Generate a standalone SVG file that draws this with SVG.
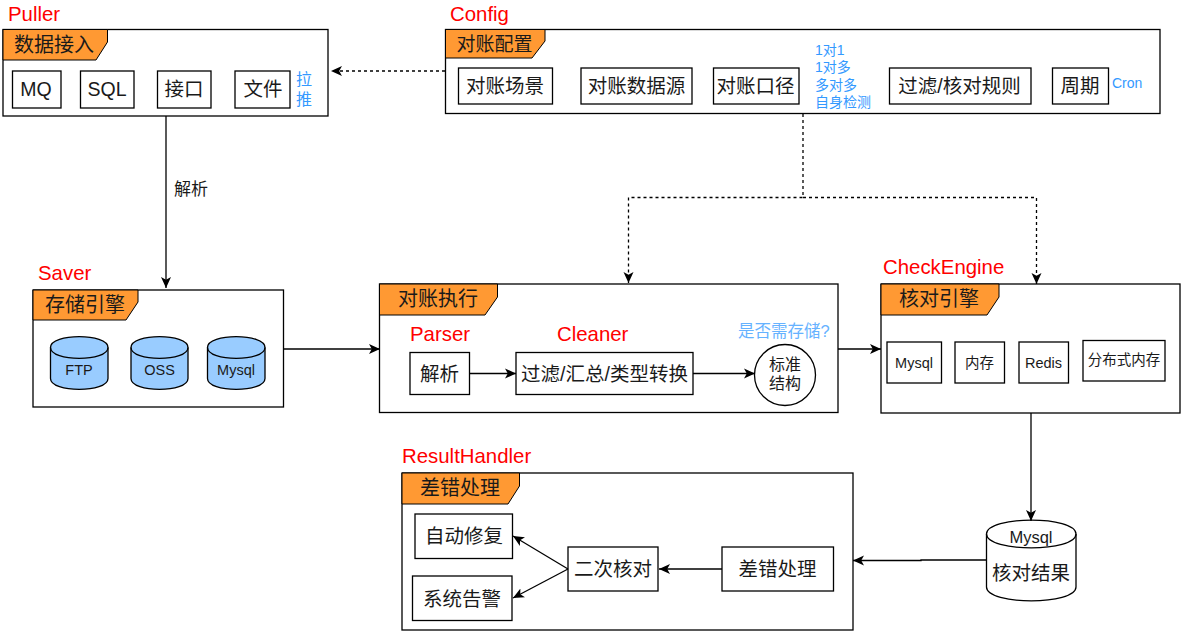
<svg xmlns="http://www.w3.org/2000/svg" width="1184" height="634" viewBox="0 0 1184 634">
<style>
text{font-family:"Liberation Sans","Noto Sans CJK SC",sans-serif;text-anchor:middle;fill:#1a1a1a}
.b{fill:#fff;stroke:#000;stroke-width:1.3}
.tab{fill:#ff9933;stroke:#000;stroke-width:1}
.red{fill:#ff0000;font-size:20.400px;text-anchor:start}
.t{font-size:20px}
.m{font-size:19.500px}
.s{font-size:14.500px}
.blue{fill:#3399ff;font-size:14px;text-anchor:start}
.db{fill:#99ccff;stroke:#000;stroke-width:1.3}
.l{fill:none;stroke:#000;stroke-width:1.3}
.d{fill:none;stroke:#000;stroke-width:1.3;stroke-dasharray:3 3}
</style>
<defs>
<marker id="a" markerWidth="12" markerHeight="12" refX="11" refY="6" orient="auto" markerUnits="userSpaceOnUse"><path d="M0,1L11,6L0,11L2.800,6Z" fill="#000"/></marker>
</defs>
<rect width="1184" height="634" fill="#fff"/>
<text x="191" y="195" font-size="17" id="label-parse">解析</text>
<g id="puller">
<text class="red" x="8" y="21">Puller</text>
<rect class="b" x="3" y="29.500" width="325" height="86.500"/>
<path class="tab" d="M3,29.500H107.500V42L96,60H3Z"/>
<text class="t" x="54" y="52">数据接入</text>
<rect class="b" x="12.500" y="71" width="48.500" height="37"/><text class="m" x="36" y="96">MQ</text>
<rect class="b" x="80.500" y="71" width="53.500" height="37"/><text class="m" x="107" y="96">SQL</text>
<rect class="b" x="157.500" y="71" width="53.500" height="37"/><text class="m" x="184" y="96">接口</text>
<rect class="b" x="235" y="71" width="55" height="37"/><text class="m" x="263" y="96">文件</text>
<text class="blue" x="296" y="85" style="font-size:16px">拉</text>
<text class="blue" x="296" y="105" style="font-size:16px">推</text>
</g>
<g id="config">
<text class="red" x="450" y="21">Config</text>
<rect class="b" x="445.500" y="29.500" width="714.500" height="84"/>
<path class="tab" d="M445.500,29.500H545V41L532,58H445.500Z"/>
<text x="494.500" y="51" style="font-size:19px">对账配置</text>
<rect class="b" x="458.500" y="68" width="94" height="36"/><text class="m" x="505" y="93">对账场景</text>
<rect class="b" x="581" y="68" width="111" height="36"/><text class="m" x="636.500" y="93">对账数据源</text>
<rect class="b" x="713.500" y="68" width="85.500" height="36"/><text class="m" x="755.500" y="93">对账口径</text>
<rect class="b" x="889.500" y="68" width="141.500" height="36"/><text class="m" x="959.500" y="93">过滤/核对规则</text>
<rect class="b" x="1052.500" y="68" width="56" height="36"/><text class="m" x="1080" y="93">周期</text>
<text class="blue" x="815" y="55">1对1</text>
<text class="blue" x="815" y="72">1对多</text>
<text class="blue" x="815" y="90">多对多</text>
<text class="blue" x="815" y="107">自身检测</text>
<text class="blue" x="1112" y="88">Cron</text>
</g>
<g id="saver">
<text class="red" x="38" y="280">Saver</text>
<rect class="b" x="33" y="290" width="250.500" height="117"/>
<path class="tab" d="M33,290H138V302L126,320H33Z"/>
<text class="t" x="85" y="312">存储引擎</text>
<g id="db-ftp"><path class="db" d="M50.500,347.500C50.500,333 108,333 108,347.500V378.500C108,393 50.500,393 50.500,378.500Z"/><path class="l" d="M50.500,347.500C50.500,362 108,362 108,347.500"/><text class="s" x="79" y="375">FTP</text></g>
<g id="db-oss"><path class="db" d="M131,347.500C131,333 188,333 188,347.500V378.500C188,393 131,393 131,378.500Z"/><path class="l" d="M131,347.500C131,362 188,362 188,347.500"/><text class="s" x="159.500" y="375">OSS</text></g>
<g id="db-mysql"><path class="db" d="M207.500,347.500C207.500,333 265,333 265,347.500V378.500C265,393 207.500,393 207.500,378.500Z"/><path class="l" d="M207.500,347.500C207.500,362 265,362 265,347.500"/><text class="s" x="236" y="375">Mysql</text></g>
</g>
<g id="exec">
<rect class="b" x="379.500" y="284" width="458.500" height="128.500"/>
<path class="tab" d="M379.500,284H497.500V297L485,315H379.500Z"/>
<text class="t" x="438" y="306">对账执行</text>
<text class="red" x="410" y="341">Parser</text>
<text class="red" x="557" y="341">Cleaner</text>
<text class="blue" x="738" y="337" style="fill:#66b2ff;font-size:16.500px">是否需存储?</text>
<rect class="b" x="410" y="352.500" width="59.500" height="42"/><text class="m" x="439.500" y="381">解析</text>
<rect class="b" x="516" y="352.500" width="177" height="42"/><text class="m" x="604.500" y="381">过滤/汇总/类型转换</text>
<circle class="b" cx="785" cy="375" r="30.500"/>
<text x="785" y="370" style="font-size:16px">标准</text>
<text x="785" y="389" style="font-size:16px">结构</text>
</g>
<g id="checkengine">
<text class="red" x="883" y="274">CheckEngine</text>
<rect class="b" x="881" y="284" width="299" height="129"/>
<path class="tab" d="M881,284H999V297L987,315H881Z"/>
<text class="t" x="939" y="306">核对引擎</text>
<rect class="b" x="887" y="342" width="54.500" height="41"/><text class="s" x="914" y="368">Mysql</text>
<rect class="b" x="955" y="342" width="49.500" height="41"/><text class="s" x="979.500" y="368">内存</text>
<rect class="b" x="1019" y="342" width="49.500" height="41"/><text class="s" x="1043.500" y="368">Redis</text>
<rect class="b" x="1083" y="340.500" width="82" height="40.500"/><text class="s" x="1124" y="365">分布式内存</text>
</g>
<g id="result-db">
<path class="b" d="M986.500,534C986.500,515.500 1076,515.500 1076,534V587C1076,605.500 986.500,605.500 986.500,587Z"/>
<path class="l" d="M986.500,534C986.500,552.500 1076,552.500 1076,534"/>
<text x="1031" y="543" style="font-size:16.500px">Mysql</text>
<text class="m" x="1031" y="580">核对结果</text>
</g>
<g id="resulthandler">
<text class="red" x="402" y="463">ResultHandler</text>
<rect class="b" x="402" y="473" width="451" height="157"/>
<path class="tab" d="M402,473H519.500V486L508,504H402Z"/>
<text class="t" x="460" y="495">差错处理</text>
<rect class="b" x="415" y="514" width="97.500" height="44.500"/><text class="m" x="464" y="543">自动修复</text>
<rect class="b" x="412.500" y="576" width="99.500" height="44.500"/><text class="m" x="462" y="606">系统告警</text>
<rect class="b" x="568" y="547" width="90" height="44"/><text class="m" x="613" y="576">二次核对</text>
<rect class="b" x="722" y="547" width="111.500" height="44"/><text class="m" x="777.500" y="576">差错处理</text>
</g>
<g id="connectors">
<path class="d" d="M445,71H331" marker-end="url(#a)"/>
<path class="l" d="M166,116V288" marker-end="url(#a)"/>
<path class="d" d="M803,114V197.500H628.500V283" marker-end="url(#a)"/>
<path class="d" d="M803,197.500H1036.500V284" marker-end="url(#a)"/>
<path class="l" d="M284,349H380" marker-end="url(#a)"/>
<path class="l" d="M470,373.500H516" marker-end="url(#a)"/>
<path class="l" d="M693,373.500H755" marker-end="url(#a)"/>
<path class="l" d="M838,349H881" marker-end="url(#a)"/>
<path class="l" d="M1031,413V521" marker-end="url(#a)"/>
<path class="l" d="M986,560H921V560.500H853" marker-end="url(#a)"/>
<path class="l" d="M722,569H659" marker-end="url(#a)"/>
<path class="l" d="M568,569L513,536" marker-end="url(#a)"/>
<path class="l" d="M568,569L513,598" marker-end="url(#a)"/>
</g>
</svg>
